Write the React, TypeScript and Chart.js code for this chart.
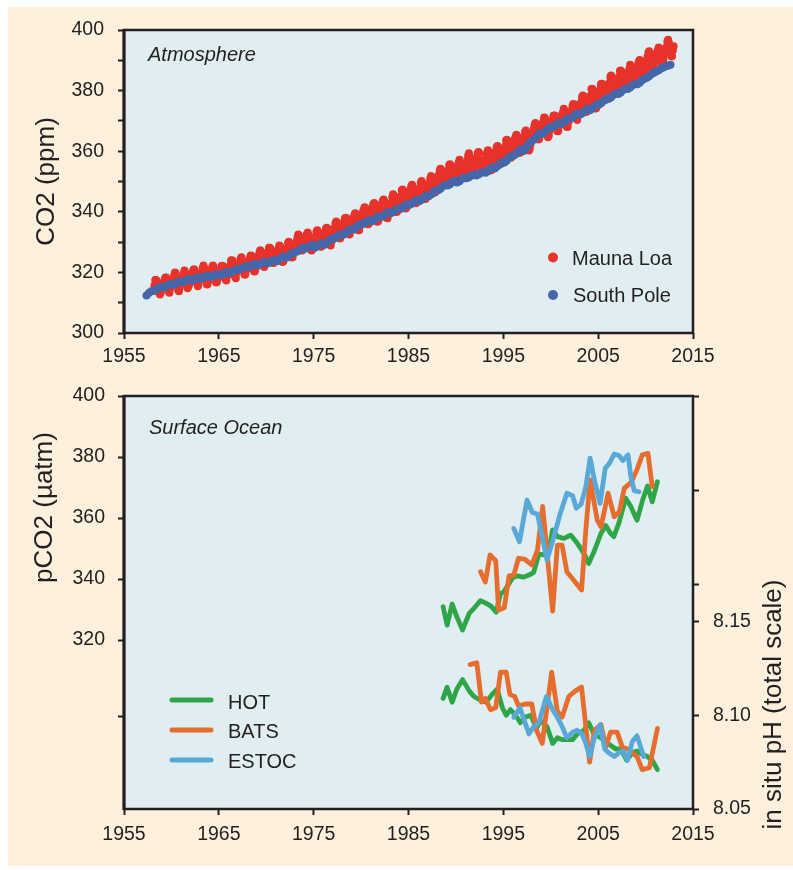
import React, { useEffect, useRef } from "react";
import { Chart, registerables } from "chart.js";

Chart.register(...registerables);

const FONT = '"Liberation Sans", Arial, Helvetica, sans-serif';
const INK = "#231f20";
const PLOT_BG = "#e0edf1";
const PANEL_BG = "#fdf0dc";

// ---------- axis ticks ----------
const yearTicks = [1955, 1965, 1975, 1985, 1995, 2005, 2015];
const co2Ticks = [300, 310, 320, 330, 340, 350, 360, 370, 380, 390, 400];
const co2Labels = [300, 320, 340, 360, 380, 400];
const pco2Ticks = [295, 320, 340, 360, 380, 400];
const pco2Labels = [320, 340, 360, 380, 400];
const phTicks = [8.05, 8.1, 8.15, 8.17, 8.22, 8.27];
const phLabels = [8.05, 8.1, 8.15];

// ---------- atmosphere (monthly Mauna Loa from Mar 1958, quarterly South Pole from Q2 1957) ----------
const maunaLoaStartYear = 1958;
const maunaLoaStartMonth = 2;
const maunaLoa = [
  315.7, 317.5, 317.5, 317.2, 315.9, 314.9, 313.2, 312.7, 313.3, 314.7,
  315.6, 316.4, 316.7, 317.7, 318.3, 318.2, 316.5, 314.8, 313.8, 313.3, 314.8, 315.6,
  316.4, 317.0, 317.6, 319.0, 320.0, 319.6, 318.2, 315.9, 314.2, 313.8, 315.0, 316.2,
  316.9, 317.7, 318.5, 319.5, 320.6, 319.8, 318.6, 316.8, 314.8, 315.4, 316.1, 317.0,
  317.9, 318.6, 319.7, 320.6, 321.0, 320.6, 319.6, 317.4, 316.3, 315.4, 316.7, 317.7,
  318.7, 319.1, 319.9, 321.4, 322.3, 321.5, 319.7, 317.8, 316.2, 316.0, 317.1, 318.4,
  319.6, 320.0, 320.7, 321.8, 322.3, 321.9, 320.4, 318.7, 316.7, 316.8, 317.8, 318.7,
  319.4, 320.4, 320.9, 322.1, 322.2, 321.9, 321.4, 318.8, 317.8, 317.3, 318.9, 319.4,
  320.6, 321.6, 322.4, 323.9, 324.0, 323.8, 322.4, 320.4, 318.6, 318.1, 319.8, 321.1,
  322.1, 322.5, 323.0, 324.4, 325.0, 324.1, 322.6, 320.9, 319.3, 319.3, 320.7, 322.0,
  322.6, 323.2, 323.9, 325.0, 325.6, 325.4, 324.1, 322.0, 320.4, 320.3, 321.3, 322.8,
  324.0, 324.4, 325.6, 326.7, 327.3, 326.8, 325.9, 323.7, 322.4, 321.8, 322.9, 324.1,
  325.0, 326.0, 326.9, 328.1, 328.1, 327.7, 326.4, 324.7, 323.1, 323.2, 324.0, 325.1,
  326.2, 326.7, 327.2, 327.8, 328.9, 328.6, 327.3, 325.5, 323.4, 323.6, 324.8, 326.0,
  326.8, 327.6, 327.8, 329.7, 330.1, 329.1, 328.1, 326.3, 324.9, 325.1, 326.5, 327.6,
  328.5, 329.6, 330.3, 331.5, 332.5, 332.1, 330.9, 329.3, 327.5, 327.2, 328.2, 328.6,
  329.4, 330.7, 331.5, 332.7, 333.2, 332.1, 331.0, 329.2, 327.4, 327.2, 328.3, 329.5,
  330.7, 331.4, 331.9, 333.3, 333.9, 333.4, 331.8, 329.9, 328.6, 328.5, 329.3, 330.8,
  331.6, 332.8, 333.2, 334.5, 334.7, 334.4, 333.1, 330.9, 329.3, 328.9, 330.3, 331.7,
  332.9, 333.4, 334.7, 336.1, 336.8, 336.3, 334.9, 332.8, 331.6, 331.2, 332.4, 333.9,
  335.0, 335.4, 336.6, 337.8, 338.0, 337.9, 336.5, 334.7, 332.8, 332.5, 333.9, 335.0,
  336.2, 336.8, 338.0, 338.9, 339.5, 339.3, 337.7, 336.1, 333.9, 333.9, 335.3, 336.7,
  338.0, 338.4, 340.1, 340.8, 341.5, 341.2, 339.6, 337.6, 335.9, 336.0, 337.1, 338.2,
  339.2, 340.5, 341.4, 342.5, 342.9, 342.3, 340.5, 338.4, 336.7, 336.9, 338.4, 339.6,
  340.8, 341.6, 342.7, 343.6, 344.1, 343.4, 342.1, 339.8, 338.0, 337.9, 339.3, 340.5,
  341.4, 342.5, 343.1, 344.9, 345.8, 345.3, 344.0, 342.4, 339.9, 340.0, 341.2, 343.0,
  343.7, 344.5, 345.3, 347.1, 347.4, 346.8, 345.4, 343.3, 341.1, 341.4, 343.0, 344.2,
  345.0, 346.0, 347.4, 348.4, 348.9, 348.3, 346.6, 344.7, 343.1, 342.8, 344.2, 345.6,
  346.3, 347.0, 347.9, 349.6, 350.2, 349.5, 347.9, 345.9, 344.9, 344.2, 345.7, 346.9,
  348.0, 348.5, 349.4, 351.0, 351.8, 351.3, 349.5, 348.1, 346.4, 346.4, 347.8, 349.0,
  350.4, 351.7, 352.2, 353.6, 354.2, 353.8, 352.4, 350.4, 348.7, 348.9, 350.1, 351.3,
  352.8, 353.1, 353.7, 355.4, 355.7, 355.1, 353.9, 351.7, 349.8, 350.0, 351.3, 352.5,
  353.7, 354.7, 355.4, 356.2, 357.2, 356.2, 354.8, 352.9, 351.0, 351.2, 352.8, 354.2,
  354.7, 355.8, 357.2, 358.6, 359.3, 358.2, 356.2, 354.0, 352.2, 352.2, 353.8, 355.0,
  356.0, 356.7, 357.8, 359.2, 359.7, 359.3, 357.0, 355.0, 353.0, 353.3, 354.2, 355.4,
  356.7, 357.2, 358.4, 359.5, 360.3, 359.6, 357.6, 355.5, 353.7, 354.0, 355.3, 356.8,
  358.4, 358.9, 360.0, 361.3, 361.7, 361.0, 359.6, 357.5, 355.8, 356.0, 357.6, 359.0,
  360.0, 361.0, 361.6, 363.5, 363.8, 363.3, 361.9, 359.5, 358.1, 357.8, 359.6, 360.7,
  362.1, 363.3, 364.0, 364.7, 365.4, 365.0, 363.7, 361.5, 359.5, 359.6, 360.8, 362.3,
  363.2, 364.0, 364.6, 366.4, 366.8, 365.6, 364.5, 362.5, 360.2, 360.8, 362.4, 364.3,
  365.3, 366.2, 367.3, 368.6, 369.3, 368.9, 367.6, 365.8, 363.9, 364.2, 365.5, 367.0,
  368.2, 368.9, 369.6, 371.1, 371.0, 370.4, 369.3, 366.9, 364.6, 365.1, 366.7, 368.0,
  369.1, 369.5, 370.5, 371.7, 371.8, 371.7, 370.1, 368.1, 366.6, 366.7, 368.3, 369.5,
  370.3, 371.5, 372.1, 372.9, 374.0, 373.3, 371.6, 369.6, 368.0, 368.1, 369.7, 371.2,
  372.4, 373.1, 373.5, 374.9, 375.6, 375.4, 374.0, 371.5, 370.7, 370.3, 372.1, 373.8,
  374.7, 375.6, 376.1, 377.7, 378.4, 378.1, 376.6, 374.5, 373.0, 373.0, 374.4, 375.7,
  376.8, 377.4, 378.4, 380.5, 380.6, 379.6, 377.8, 375.9, 374.1, 374.2, 375.9, 377.5,
  378.4, 379.7, 380.4, 382.1, 382.3, 382.1, 380.7, 378.7, 377.0, 377.0, 378.4, 380.1,
  381.4, 382.2, 382.7, 384.6, 385.0, 384.1, 382.5, 380.4, 378.9, 379.1, 380.2, 381.8,
  382.9, 383.9, 384.6, 386.5, 386.6, 386.1, 384.5, 382.0, 381.0, 381.1, 382.5, 384.0,
  385.5, 385.8, 386.0, 387.2, 388.5, 387.8, 386.4, 384.1, 383.2, 383.0, 384.2, 385.6,
  386.9, 387.5, 388.8, 389.6, 390.1, 389.5, 388.0, 386.1, 384.7, 384.4, 386.0, 387.4,
  388.7, 390.2, 391.2, 392.5, 393.0, 392.2, 390.2, 388.4, 386.9, 387.2, 388.7, 389.8,
  391.3, 391.9, 392.6, 393.3, 394.2, 393.7, 392.5, 390.1, 389.1, 389.0, 390.3, 391.9,
  393.1, 393.9, 394.4, 396.2, 396.8, 395.8, 394.3, 392.6, 391.3, 391.3, 393.2, 394.6,
];

const southPoleStartYear = 1957;
const southPoleStartQuarter = 1;
const southPole = [
  312.4, 313.2, 313.8,
  313.9, 314.3, 314.9, 315.3,
  315.0, 315.3, 315.9, 316.2,
  315.9, 316.2, 316.8, 317.1,
  316.8, 317.0, 317.6, 317.8,
  317.4, 317.6, 318.2, 318.4,
  318.0, 318.2, 318.8, 319.0,
  318.5, 318.7, 319.3, 319.5,
  319.0, 319.3, 319.9, 320.2,
  319.7, 320.1, 320.7, 321.1,
  320.9, 321.2, 321.8, 322.1,
  321.7, 322.0, 322.6, 322.9,
  322.4, 322.7, 323.3, 323.6,
  323.0, 323.3, 323.9, 324.2,
  323.7, 324.2, 324.9, 325.3,
  324.8, 325.3, 326.1, 326.6,
  326.7, 327.1, 327.7, 328.1,
  327.9, 328.2, 328.8, 329.1,
  328.1, 328.6, 329.3, 329.7,
  329.1, 329.7, 330.5, 331.1,
  331.1, 331.5, 332.3, 332.7,
  332.4, 332.9, 333.7, 334.2,
  334.1, 334.6, 335.4, 335.9,
  335.9, 336.3, 336.9, 337.3,
  336.9, 337.3, 338.1, 338.5,
  338.3, 338.7, 339.5, 339.9,
  339.5, 339.9, 340.7, 341.1,
  340.9, 341.3, 342.1, 342.5,
  342.3, 342.7, 343.5, 343.9,
  343.5, 344.0, 344.8, 345.3,
  345.1, 345.7, 346.5, 347.1,
  347.1, 347.6, 348.4, 348.9,
  348.7, 349.1, 349.9, 350.3,
  349.7, 350.1, 350.9, 351.3,
  351.1, 351.4, 352.0, 352.3,
  352.0, 352.3, 352.9, 353.2,
  352.9, 353.4, 354.2, 354.7,
  354.4, 355.0, 355.8, 356.5,
  356.3, 356.9, 357.9, 358.5,
  358.6, 359.2, 360.1, 360.7,
  360.1, 361.0, 362.2, 363.1,
  363.7, 364.3, 365.3, 365.9,
  365.8, 366.4, 367.2, 367.8,
  367.8, 368.2, 369.0, 369.4,
  369.1, 369.6, 370.4, 370.9,
  370.9, 371.3, 372.1, 372.5,
  372.1, 372.6, 373.4, 373.9,
  373.5, 374.1, 374.9, 375.5,
  375.4, 376.0, 376.8, 377.4,
  377.3, 377.8, 378.6, 379.1,
  378.9, 379.4, 380.2, 380.7,
  380.5, 381.0, 381.8, 382.3,
  382.1, 382.6, 383.4, 383.9,
  384.2, 384.7, 385.5, 385.9,
  386.3, 386.7, 387.3, 387.6,
  388.0, 388.2, 388.5,
];

// ---------- surface ocean: [year, pCO2 µatm] ----------
const hotPco2 = [
  [1988.65, 330.9], [1989.07, 324.9], [1989.6, 331.8], [1990.1, 327.6], [1990.7, 323.3],
  [1991.4, 328.7], [1991.9, 330.4], [1992.6, 332.9], [1993.2, 332.0], [1993.7, 331.1],
  [1994.25, 329.1], [1994.7, 335.3], [1995.05, 335.8], [1995.4, 337.5], [1996.0, 340.5],
  [1996.5, 341.0], [1997.1, 340.6], [1997.7, 341.3], [1998.2, 342.2], [1998.75, 348.2],
  [1999.3, 347.9], [1999.8, 349.5], [2000.2, 356.1], [2000.7, 353.9], [2001.4, 353.3],
  [2002.1, 354.4], [2002.8, 351.7], [2003.5, 348.4], [2004.0, 345.1], [2004.55, 348.9],
  [2005.3, 355.0], [2005.8, 357.5], [2006.3, 355.0], [2006.65, 353.9], [2007.2, 358.5],
  [2007.9, 366.5], [2008.4, 364.0], [2009.1, 359.3], [2009.7, 366.0], [2010.2, 370.5],
  [2010.7, 365.3], [2011.25, 371.9],
];
const batsPco2 = [
  [1992.6, 342.4], [1993.1, 339.0], [1993.6, 347.9], [1994.2, 346.0], [1994.5, 329.8],
  [1995.1, 330.6], [1995.6, 341.0], [1996.1, 341.3], [1996.6, 346.8], [1997.25, 346.5],
  [1998.0, 344.6], [1998.6, 349.5], [1999.15, 363.8], [2000.2, 329.5], [2000.7, 351.1],
  [2001.2, 351.1], [2001.7, 342.4], [2002.4, 339.7], [2003.25, 336.4], [2003.7, 356.1],
  [2004.15, 372.5], [2004.9, 359.3], [2005.3, 357.1], [2006.05, 368.1], [2006.7, 360.4],
  [2007.25, 362.1], [2007.75, 369.7], [2008.45, 371.6], [2009.05, 375.5], [2009.65, 380.7],
  [2010.25, 381.2], [2010.7, 370.3],
];
const estocPco2 = [
  [1996.1, 356.6], [1996.7, 352.2], [1997.5, 365.9], [1998.05, 361.8], [1998.6, 361.3],
  [1999.1, 353.9], [1999.6, 346.2], [2000.3, 353.5], [2001.0, 361.5], [2001.7, 368.1],
  [2002.3, 367.3], [2002.7, 363.2], [2003.2, 364.5], [2003.7, 370.3], [2004.15, 379.6],
  [2004.6, 372.5], [2005.2, 364.8], [2005.75, 376.3], [2006.2, 378.0], [2006.7, 381.0],
  [2007.2, 380.5], [2007.6, 378.8], [2008.15, 380.7], [2008.45, 373.5], [2008.8, 369.0],
  [2009.3, 368.6],
];

// ---------- surface ocean: [year, in situ pH] ----------
const hotPh = [
  [1988.65, 8.109], [1989.07, 8.115], [1989.6, 8.107], [1990.1, 8.114], [1990.7, 8.119],
  [1991.4, 8.113], [1991.9, 8.110], [1992.6, 8.108], [1993.2, 8.107], [1993.8, 8.111],
  [1994.35, 8.114], [1994.9, 8.104], [1995.3, 8.100], [1995.75, 8.103], [1996.3, 8.100],
  [1996.8, 8.096], [1997.3, 8.099], [1997.9, 8.100], [1998.5, 8.093], [1998.9, 8.097],
  [1999.6, 8.094], [2000.2, 8.085], [2000.7, 8.088], [2001.2, 8.087], [2002.3, 8.087],
  [2002.8, 8.090], [2003.5, 8.092], [2004.0, 8.096], [2004.55, 8.090], [2005.3, 8.088],
  [2005.8, 8.086], [2006.3, 8.084], [2006.85, 8.082], [2007.4, 8.082], [2008.0, 8.076],
  [2008.6, 8.080], [2009.1, 8.081], [2009.7, 8.079], [2010.2, 8.078], [2010.7, 8.076],
  [2011.25, 8.071],
];
const batsPh = [
  [1991.5, 8.127], [1992.2, 8.128], [1992.7, 8.107], [1993.1, 8.109], [1993.65, 8.103],
  [1994.2, 8.104], [1994.7, 8.123], [1995.3, 8.123], [1995.7, 8.111], [1996.2, 8.110],
  [1996.6, 8.105], [1997.3, 8.106], [1998.0, 8.106], [1998.5, 8.092], [1999.1, 8.085],
  [2000.1, 8.123], [2000.7, 8.102], [2001.2, 8.099], [2001.9, 8.110], [2002.6, 8.113],
  [2003.25, 8.115], [2003.7, 8.094], [2004.1, 8.075], [2004.6, 8.092], [2005.3, 8.095],
  [2005.8, 8.083], [2006.3, 8.091], [2007.0, 8.091], [2007.55, 8.083], [2008.1, 8.082],
  [2009.1, 8.078], [2009.65, 8.071], [2010.4, 8.072], [2011.25, 8.093],
];
const estocPh = [
  [1996.1, 8.099], [1996.75, 8.104], [1997.7, 8.090], [1998.2, 8.094], [1998.75, 8.096],
  [1999.55, 8.110], [2000.2, 8.103], [2000.7, 8.099], [2001.2, 8.094], [2001.7, 8.088],
  [2002.3, 8.091], [2002.8, 8.092], [2003.3, 8.090], [2003.7, 8.085], [2004.1, 8.078],
  [2004.6, 8.088], [2005.2, 8.095], [2005.7, 8.082], [2006.1, 8.080], [2006.7, 8.078],
  [2007.2, 8.080], [2007.65, 8.081], [2008.1, 8.076], [2008.6, 8.086], [2009.1, 8.089],
  [2009.8, 8.078],
];

const COLORS = {
  maunaLoa: "#e8322a",
  southPole: "#4567a9",
  hot: "#2ea546",
  bats: "#e66d2d",
  estoc: "#5aa8d8",
};

const toXY = (pairs: number[][]) => pairs.map(([x, y]) => ({ x, y }));

const fixedTicks = (values: number[]) => (scale: any) => {
  scale.ticks = values.map((v) => ({ value: v }));
};

const tickFont = { family: FONT, size: 19.5 };

const gridOpts = {
  display: true,
  drawOnChartArea: false,
  drawTicks: true,
  tickLength: 6,
  tickWidth: 2,
  tickColor: INK,
};

function xScale(height: number, padding: number) {
  return {
    type: "linear",
    min: 1955,
    max: 2015,
    afterBuildTicks: fixedTicks(yearTicks),
    afterFit: (s: any) => {
      s.height = height;
    },
    ticks: {
      autoSkip: false,
      maxRotation: 0,
      padding,
      color: INK,
      font: tickFont,
      callback: (v: any) => String(v),
    },
    grid: gridOpts,
    border: { display: false },
  };
}

const framePlugin = {
  id: "frame",
  beforeDraw(chart: any) {
    const { ctx, chartArea } = chart;
    const { left, top, right, bottom } = chartArea;
    ctx.save();
    ctx.fillStyle = PLOT_BG;
    ctx.fillRect(left, top, right - left, bottom - top);
    ctx.restore();
  },
  afterDraw(chart: any) {
    const { ctx, chartArea } = chart;
    const { left, top, right, bottom } = chartArea;
    ctx.save();
    ctx.strokeStyle = INK;
    ctx.lineWidth = 2.5;
    ctx.strokeRect(left, top, right - left, bottom - top);
    ctx.lineWidth = 3;
    ctx.beginPath();
    ctx.moveTo(left, top - 1);
    ctx.lineTo(left, bottom + 1);
    ctx.stroke();
    ctx.restore();
  },
};

const atmosphereDeco = {
  id: "atmosphereDeco",
  afterDraw(chart: any) {
    const { ctx } = chart;
    ctx.save();
    ctx.fillStyle = INK;
    ctx.textBaseline = "alphabetic";
    ctx.textAlign = "left";
    ctx.font = `italic 20px ${FONT}`;
    ctx.fillText("Atmosphere", 148, 61);
    ctx.font = `20px ${FONT}`;
    const items = [
      { label: "Mauna Loa", color: COLORS.maunaLoa, cy: 257.5, tx: 572, ty: 264.5 },
      { label: "South Pole", color: COLORS.southPole, cy: 295, tx: 573, ty: 301.5 },
    ];
    items.forEach((it) => {
      ctx.fillStyle = it.color;
      ctx.beginPath();
      ctx.arc(553, it.cy, 5, 0, Math.PI * 2);
      ctx.fill();
      ctx.fillStyle = INK;
      ctx.fillText(it.label, it.tx, it.ty);
    });
    ctx.restore();
  },
};

const oceanDeco = {
  id: "oceanDeco",
  afterDraw(chart: any) {
    const { ctx } = chart;
    ctx.save();
    ctx.fillStyle = INK;
    ctx.textAlign = "left";
    ctx.textBaseline = "alphabetic";
    ctx.font = `italic 20px ${FONT}`;
    ctx.fillText("Surface Ocean", 149, 63.5);

    ctx.font = `20px ${FONT}`;
    const items = [
      { label: "HOT", color: COLORS.hot, ly: 330, ty: 338.5 },
      { label: "BATS", color: COLORS.bats, ly: 360, ty: 368 },
      { label: "ESTOC", color: COLORS.estoc, ly: 390, ty: 398 },
    ];
    items.forEach((it) => {
      ctx.strokeStyle = it.color;
      ctx.lineWidth = 5;
      ctx.lineCap = "round";
      ctx.beginPath();
      ctx.moveTo(172, it.ly);
      ctx.lineTo(211, it.ly);
      ctx.stroke();
      ctx.fillStyle = INK;
      ctx.fillText(it.label, 228, it.ty);
    });

    ctx.font = `26px ${FONT}`;
    ctx.textAlign = "center";
    ctx.textBaseline = "middle";
    ctx.save();
    ctx.translate(45, 137.5);
    ctx.rotate(-Math.PI / 2);
    ctx.fillText("pCO2 (µatm)", 0, 0);
    ctx.restore();
    ctx.save();
    ctx.translate(774, 334.5);
    ctx.rotate(-Math.PI / 2);
    ctx.fillText("in situ pH (total scale)", 0, 0);
    ctx.restore();
    ctx.restore();
  },
};

function atmosphereConfig(): any {
  const mlPoints = maunaLoa.map((v, i) => ({
    x: maunaLoaStartYear + (maunaLoaStartMonth + i + 0.5) / 12,
    y: v,
  }));
  const spPoints = southPole.map((v, i) => ({
    x: southPoleStartYear + (southPoleStartQuarter + i + 0.5) / 4,
    y: v,
  }));
  return {
    type: "scatter",
    data: {
      datasets: [
        {
          label: "Mauna Loa",
          data: mlPoints,
          backgroundColor: COLORS.maunaLoa,
          borderWidth: 0,
          pointRadius: 4,
          order: 1,
        },
        {
          label: "South Pole",
          data: spPoints,
          backgroundColor: COLORS.southPole,
          borderWidth: 0,
          pointRadius: 4,
          order: 0,
        },
      ],
    },
    options: {
      animation: false,
      responsive: false,
      devicePixelRatio: 1,
      events: [],
      layout: { padding: { left: 0, top: 30, right: 100, bottom: 0 } },
      plugins: { legend: { display: false }, tooltip: { enabled: false } },
      scales: {
        x: xScale(37, 6),
        y: {
          type: "linear",
          min: 300,
          max: 400,
          afterBuildTicks: fixedTicks(co2Ticks),
          afterFit: (s: any) => {
            s.width = 124;
          },
          ticks: {
            autoSkip: false,
            padding: 14,
            color: INK,
            font: tickFont,
            callback: (v: any) => (co2Labels.includes(v) ? String(v) : ""),
          },
          grid: gridOpts,
          border: { display: false },
          title: {
            display: true,
            text: "CO2 (ppm)",
            color: INK,
            font: { family: FONT, size: 26 },
            padding: { top: 31, bottom: 0 },
          },
        },
      },
    },
    plugins: [framePlugin, atmosphereDeco],
  };
}

function lineSet(label: string, pairs: number[][], color: string, axis: string, order: number) {
  return {
    label,
    data: toXY(pairs),
    showLine: true,
    borderColor: color,
    backgroundColor: color,
    borderWidth: 4.8,
    pointRadius: 0,
    borderJoinStyle: "round",
    borderCapStyle: "round",
    tension: 0,
    yAxisID: axis,
    order,
  };
}

function oceanConfig(): any {
  return {
    type: "scatter",
    data: {
      datasets: [
        lineSet("HOT", hotPco2, COLORS.hot, "y", 3),
        lineSet("BATS", batsPco2, COLORS.bats, "y", 2),
        lineSet("ESTOC", estocPco2, COLORS.estoc, "y", 1),
        lineSet("HOT pH", hotPh, COLORS.hot, "y2", 3),
        lineSet("BATS pH", batsPh, COLORS.bats, "y2", 2),
        lineSet("ESTOC pH", estocPh, COLORS.estoc, "y2", 1),
      ],
    },
    options: {
      animation: false,
      responsive: false,
      devicePixelRatio: 1,
      events: [],
      layout: { padding: { left: 0, top: 26, right: 0, bottom: 0 } },
      plugins: { legend: { display: false }, tooltip: { enabled: false } },
      scales: {
        x: xScale(61, 8),
        y: {
          type: "linear",
          position: "left",
          min: 264.6,
          max: 400,
          afterBuildTicks: fixedTicks(pco2Ticks),
          afterFit: (s: any) => {
            s.width = 124;
          },
          ticks: {
            autoSkip: false,
            padding: 13,
            color: INK,
            font: tickFont,
            callback: (v: any) => (pco2Labels.includes(v) ? String(v) : ""),
          },
          grid: gridOpts,
          border: { display: false },
        },
        y2: {
          type: "linear",
          position: "right",
          min: 8.05,
          max: 8.2703,
          afterBuildTicks: fixedTicks(phTicks),
          afterFit: (s: any) => {
            s.width = 100;
          },
          ticks: {
            autoSkip: false,
            padding: 14,
            color: INK,
            font: tickFont,
            callback: (v: any) => (phLabels.includes(v) ? Number(v).toFixed(2) : ""),
          },
          grid: gridOpts,
          border: { display: false },
        },
      },
    },
    plugins: [framePlugin, oceanDeco],
  };
}

export default function App() {
  const topRef = useRef<HTMLCanvasElement>(null);
  const bottomRef = useRef<HTMLCanvasElement>(null);

  useEffect(() => {
    const c1 = new Chart(topRef.current as HTMLCanvasElement, atmosphereConfig());
    const c2 = new Chart(bottomRef.current as HTMLCanvasElement, oceanConfig());
    return () => {
      c1.destroy();
      c2.destroy();
    };
  }, []);

  return (
    <div style={{ position: "absolute", left: 0, top: 0, width: 793, height: 870, background: "#ffffff" }}>
      <div style={{ position: "absolute", left: 8, top: 7, width: 785, height: 859, background: PANEL_BG }} />
      <canvas
        ref={topRef}
        width={793}
        height={370}
        style={{ position: "absolute", left: 0, top: 0, width: 793, height: 370 }}
      />
      <canvas
        ref={bottomRef}
        width={793}
        height={500}
        style={{ position: "absolute", left: 0, top: 370, width: 793, height: 500 }}
      />
    </div>
  );
}
